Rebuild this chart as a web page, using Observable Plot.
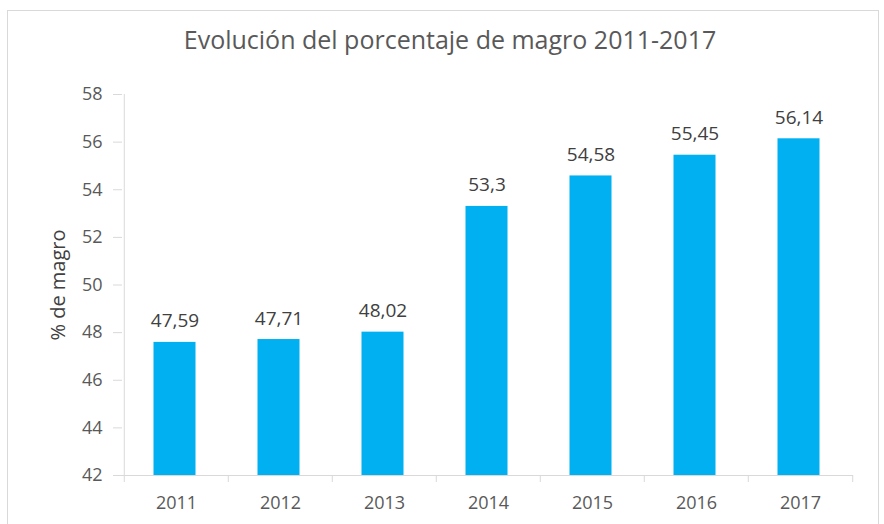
<!DOCTYPE html>
<html>
<head>
<meta charset="utf-8">
<script src="https://cdn.jsdelivr.net/npm/d3@7"></script>
<script src="https://cdn.jsdelivr.net/npm/@observablehq/plot@0.6"></script>
<style>
  html, body { margin: 0; padding: 0; background: #fff; }
  #wrap { position: relative; width: 884px; height: 524px; overflow: hidden; font-family: "Open Sans", sans-serif; }
  #frame { position: absolute; left: 7px; top: 10px; width: 872px; height: 530px; border: 1px solid #d9d9d9; box-sizing: border-box; }
  #title { position: absolute; left: 0; top: 23px; width: 900px; text-align: center; font-size: 25px; color: #595959; line-height: 32px; white-space: nowrap; }
  #chart { position: absolute; left: 0; top: 0; }
</style>
</head>
<body>
<div id="wrap">
  <div id="frame"></div>
  <div id="chart"></div>
  <div id="title">Evolución del porcentaje de magro 2011-2017</div>
</div>
<script>
const years = ["2011", "2012", "2013", "2014", "2015", "2016", "2017"];
const values = [47.59, 47.71, 48.02, 53.3, 54.58, 55.45, 56.14];
const yTicks = [42, 44, 46, 48, 50, 52, 54, 56, 58];
const yLabel = "% de magro";

const data = years.map((year, i) => ({year, value: values[i]}));

const W = 884, H = 524;
const mL = 122, mR = 31, mT = 94, mB = 49;
const step = (W - mL - mR) / years.length;
const plotH = H - mT - mB;
const axisColor = "#d9d9d9";
const fmt = v => String(v).replace(".", ",");

const chart = Plot.plot({
  width: W,
  height: H,
  marginLeft: mL,
  marginRight: mR,
  marginTop: mT,
  marginBottom: mB,
  style: {fontFamily: "'Open Sans', sans-serif", background: "transparent", overflow: "visible"},
  x: {type: "band", domain: years, paddingInner: 0.6, paddingOuter: 0.3, label: null},
  y: {domain: [42, 58], label: null},
  marks: [
    Plot.barY(data, {x: "year", y1: 42, y2: "value", fill: "#00b0f0", dx: -1.5}),
    Plot.ruleY([42], {stroke: axisColor, strokeWidth: 1}),
    Plot.ruleX([years[0]], {dx: -step / 2, stroke: axisColor, insetBottom: -7}),
    Plot.ruleX(years.slice(1), {dx: -step / 2, stroke: axisColor, insetTop: plotH, insetBottom: -7}),
    Plot.ruleX([years[years.length - 1]], {dx: step / 2, stroke: axisColor, insetTop: plotH, insetBottom: -7}),
    Plot.axisY({ticks: yTicks, tickSize: 9, tickPadding: 11, stroke: axisColor, fill: "#595959", fontSize: 18, tickFormat: d => d, label: null}),
    Plot.axisX({tickSize: 0, tickPadding: 21, fill: "#595959", fontSize: 18, label: null}),
    Plot.text([yLabel], {frameAnchor: "left", textAnchor: "middle", dx: -64, rotate: -90, fontSize: 20, fill: "#404040", text: d => d}),
    Plot.text(data, {x: "year", y: "value", text: d => fmt(d.value), dy: -15, dx: -1.5, lineAnchor: "bottom", fontSize: 19, fill: "#404040"})
  ]
});
document.getElementById("chart").appendChild(chart);
</script>
</body>
</html>
